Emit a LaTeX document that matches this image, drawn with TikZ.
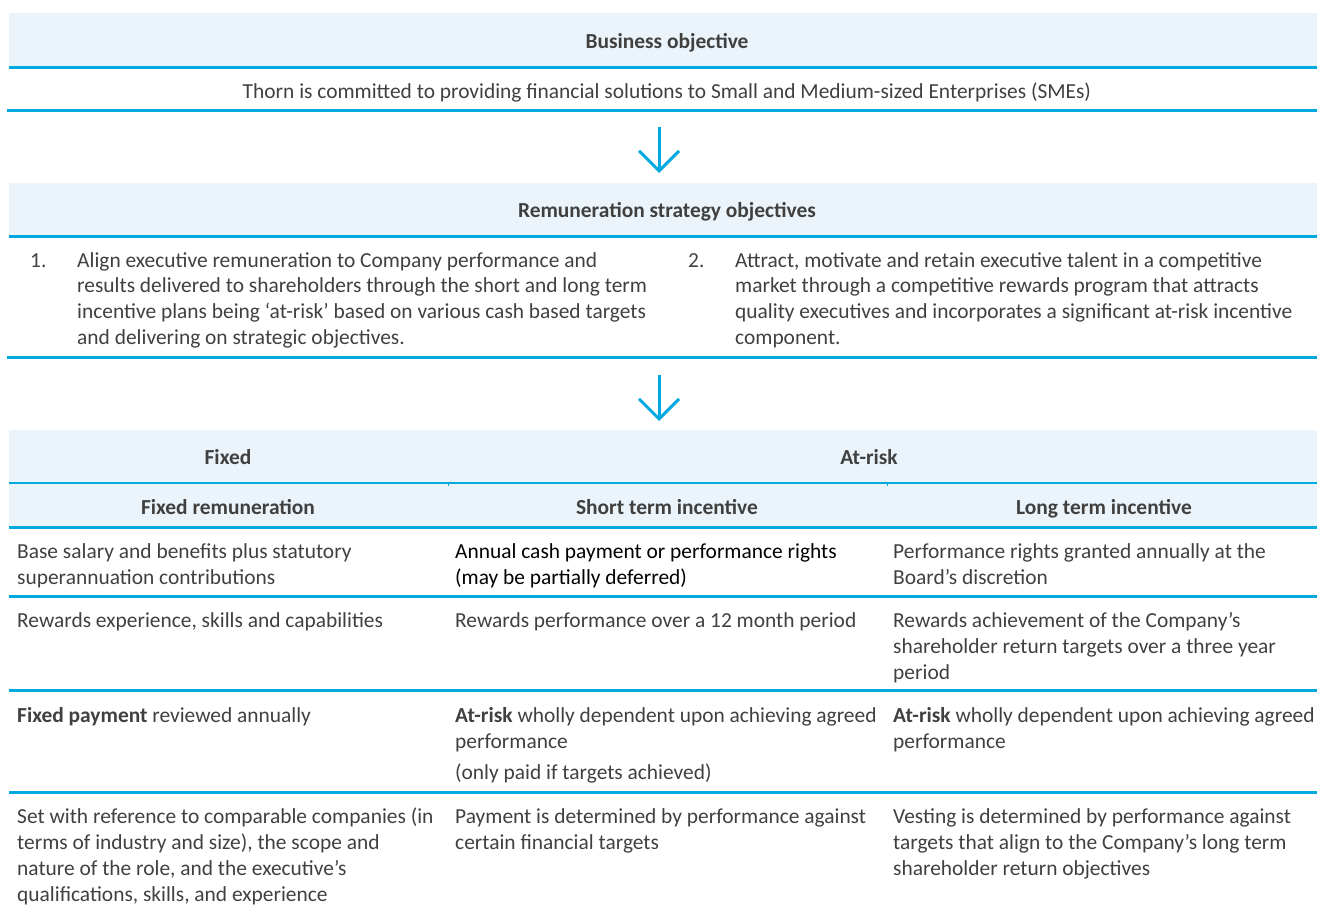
\documentclass[tikz,border=0pt]{standalone}
\usepackage{fontspec}
\setmainfont{Carlito}
\usetikzlibrary{arrows.meta}
\definecolor{cyanline}{HTML}{00A9E0}
\definecolor{bandfill}{HTML}{EBF4FA}
\definecolor{txt}{HTML}{404040}
\newcommand{\stacklines}[1]{\vtop{\let\\\cr\halign{##\hfil\cr#1\crcr}}}
\begin{document}
\begin{tikzpicture}[x=1bp,y=-1bp,
  cell/.style={anchor=base west, inner sep=0pt, text=txt, font=\fontsize{21.5}{26.4}\selectfont},
  item/.style={cell, font=\fontsize{21.5}{25.9}\selectfont},
  head/.style={anchor=base, inner sep=0pt, text=txt, font=\fontsize{21.5}{26}\selectfont\bfseries},
  rule/.style={draw=cyanline, line width=3bp},
  thinrule/.style={draw=cyanline, line width=2bp},
  band/.style={fill=bandfill},
  flow/.style={draw=cyanline, line width=3bp, -{Straight Barb[length=20bp, width=40bp]}}]
\useasboundingbox (0,0) rectangle (1317,906);

% Business objective
\fill[band] (9,13) rectangle (1317,66);
\draw[rule] (9,67.5) -- (1317,67.5);
\node[head] (bo) at (667,48) {Business objective};
\node[cell, anchor=base] (thorn) at (667,98) {Thorn is committed to providing financial solutions to Small and Medium-sized Enterprises (SMEs)};
\draw[rule] (7,110.5) -- (1317,110.5);

\coordinate (a1s) at (659,127);
\coordinate (a1e) at (659,173);
\draw[flow] (a1s) -- (a1e);

% Remuneration strategy objectives
\fill[band] (9,183) rectangle (1317,235);
\draw[rule] (9,236) -- (1317,236);
\node[head] (rso) at (667,217) {Remuneration strategy objectives};
\node[item] (n1) at (30,267) {1.};
\node[item] (o1) at (77,267) {\stacklines{Align executive remuneration to Company performance and\\results delivered to shareholders through the short and long term\\incentive plans being ‘at-risk’ based on various cash based targets\\and delivering on strategic objectives.}};
\node[item] (n2) at (688,267) {2.};
\node[item] (o2) at (735,267) {\stacklines{Attract, motivate and retain executive talent in a competitive\\market through a competitive rewards program that attracts\\quality executives and incorporates a significant at-risk incentive\\component.}};
\draw[rule] (7,357.5) -- (1317,357.5);

\coordinate (a2s) at (659,375);
\coordinate (a2e) at (659,421);
\draw[flow] (a2s) -- (a2e);

% Table header
\fill[band] (9,430) rectangle (1317,527);
\draw[thinrule] (9,483) -- (1317,483);
\draw[cyanline, line width=1bp] (448,483) -- (448,486);
\draw[cyanline, line width=1bp] (887,483) -- (887,486);
\draw[rule] (9,527) -- (1317,527);
\node[head] (hf) at (228,464) {Fixed};
\node[head] (ha) at (869,464) {At-risk};
\node[head] (h1) at (228,514) {Fixed remuneration};
\node[head] (h2) at (667,514) {Short term incentive};
\node[head] (h3) at (1104,514) {Long term incentive};

% Row 1
\node[cell] (r1c1) at (17,558) {\stacklines{Base salary and benefits plus statutory\\superannuation contributions}};
\node[cell, text=black] (r1c2) at (455,558) {\stacklines{Annual cash payment or performance rights\\(may be partially deferred)}};
\node[cell] (r1c3) at (893,558) {\stacklines{Performance rights granted annually at the\\Board’s discretion}};
\draw[rule] (9,596) -- (1317,596);

% Row 2
\node[cell] (r2c1) at (17,627) {Rewards experience, skills and capabilities};
\node[cell] (r2c2) at (455,627) {Rewards performance over a 12 month period};
\node[cell] (r2c3) at (893,627) {\stacklines{Rewards achievement of the Company’s\\shareholder return targets over a three year\\period}};
\draw[rule] (9,690.5) -- (1317,690.5);

% Row 3
\node[cell] (r3c1) at (17,722) {\textbf{Fixed payment} reviewed annually};
\node[cell] (r3c2) at (455,722) {\stacklines{\textbf{At-risk} wholly dependent upon achieving agreed\\performance\\\noalign{\vskip5bp}(only paid if targets achieved)}};
\node[cell] (r3c3) at (893,722) {\stacklines{\textbf{At-risk} wholly dependent upon achieving agreed\\performance}};
\draw[rule] (9,792) -- (1317,792);

% Row 4
\node[cell] (r4c1) at (17,823) {\stacklines{Set with reference to comparable companies (in\\terms of industry and size), the scope and\\nature of the role, and the executive’s\\qualifications, skills, and experience}};
\node[cell] (r4c2) at (455,823) {\stacklines{Payment is determined by performance against\\certain financial targets}};
\node[cell] (r4c3) at (893,823) {\stacklines{Vesting is determined by performance against\\targets that align to the Company’s long term\\shareholder return objectives}};
\end{tikzpicture}
\end{document}
